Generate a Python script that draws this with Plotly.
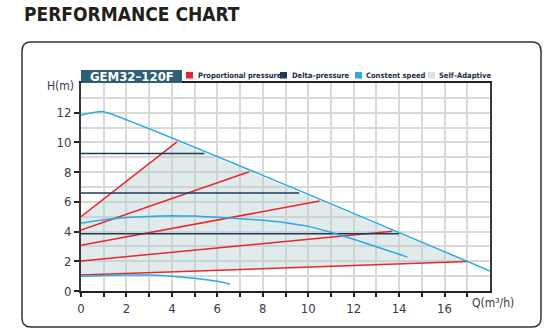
import plotly.graph_objects as go

# ---------------- data ----------------
title_text = "PERFORMANCE CHART"
model_name = "GEM32–120F"
legend_labels = ["Proportional pressure", "Delta–pressure", "Constent speed", "Self–Adaptive"]

x_tick_vals = [0, 2, 4, 6, 8, 10, 12, 14, 16]
y_tick_vals = [0, 2, 4, 6, 8, 10, 12]

# proportional pressure lines (start / end points)
prop_q_start = [0, 0, 0, 0, 0]
prop_h_start = [5.0, 4.1, 3.08, 2.02, 1.08]
prop_q_end = [4.22, 7.4, 10.5, 13.7, 17.0]
prop_h_end = [10.04, 8.03, 6.05, 4.03, 1.98]

# delta-pressure lines
delta_h = [9.26, 6.6, 3.85]
delta_q_end = [5.43, 9.6, 14.0]

# constant speed curves
cs_max_q = [0, 0.5, 1.0, 18.0]
cs_max_h = [11.85, 12.0, 12.07, 1.35]
cs_mid_q = [0, 1, 2, 3, 4, 5, 6, 7, 8, 9, 10, 11, 12, 13, 14, 14.37]
cs_mid_h = [4.57, 4.8, 4.95, 5.02, 5.06, 5.04, 4.96, 4.87, 4.76, 4.6, 4.35, 3.95, 3.48, 2.98, 2.47, 2.28]
cs_min_q = [0, 1, 2, 3, 4, 5, 6, 6.55]
cs_min_h = [1.0, 1.05, 1.08, 1.07, 1.0, 0.85, 0.65, 0.47]

# self-adaptive region boundary
sa_q = [0, 4.22, 17.0, 0]
sa_h = [5.0, 10.04, 1.98, 1.08]

# ---------------- style ----------------
RED = "#e8262f"
NAVY = "#1f3a5c"
CYAN = "#29abe2"
FILL = "rgba(180,205,205,0.4)"
FILL_SWATCH = "#d9e3e3"
TEAL = "#2e6073"
TXT = "#1c2b4a"
FONT = "DejaVu Sans Condensed, Roboto Condensed, Liberation Sans Narrow, Roboto, sans-serif"

W, H = 550, 334
L, R, T, B = 81, 490, 83, 291


def px(x):
    return (x - L) / (R - L)


def py(y):
    return (B - y) / (B - T)


fig = go.Figure()

fig.add_trace(go.Scatter(x=sa_q, y=sa_h, fill="toself", fillcolor=FILL,
                         mode="lines", line=dict(width=0), hoverinfo="skip",
                         showlegend=False))

# proportional pressure
xs, ys = [], []
for q0, h0, q1, h1 in zip(prop_q_start, prop_h_start, prop_q_end, prop_h_end):
    xs += [q0, q1, None]
    ys += [h0, h1, None]
fig.add_trace(go.Scatter(x=xs, y=ys, mode="lines", line=dict(color=RED, width=1.5),
                         showlegend=False))

# delta pressure
xs, ys = [], []
for h, q1 in zip(delta_h, delta_q_end):
    xs += [0, q1, None]
    ys += [h, h, None]
fig.add_trace(go.Scatter(x=xs, y=ys, mode="lines", line=dict(color=NAVY, width=1.5),
                         showlegend=False))

# constant speed
for q, h in [(cs_max_q, cs_max_h), (cs_mid_q, cs_mid_h), (cs_min_q, cs_min_h)]:
    fig.add_trace(go.Scatter(x=q, y=h, mode="lines", line=dict(color=CYAN, width=1.5, shape="spline", smoothing=0.4),
                             showlegend=False))

GRID = "#d9d9d9"
TICKC = "#3a3a50"
fig.update_xaxes(range=[0, 18], tickmode="array", tickvals=x_tick_vals,
                 ticks="outside", ticklen=4, tickwidth=1.5, tickcolor="#222",
                 showgrid=True, gridcolor=GRID, gridwidth=1.5,
                 minor=dict(tickmode="array", tickvals=[1, 3, 5, 7, 9, 11, 13, 15, 17],
                            ticks="outside", ticklen=4, tickwidth=1.5, tickcolor="#222",
                            showgrid=True, gridcolor=GRID, gridwidth=1.5),
                 showline=True, linecolor="#222", linewidth=2, mirror=True,
                 zeroline=False, tickfont=dict(family=FONT, size=13, color=TICKC))
fig.update_yaxes(range=[0, 14], tickmode="array", tickvals=y_tick_vals,
                 ticks="outside", ticklen=5, tickwidth=1.5, tickcolor="#222",
                 showgrid=True, gridcolor=GRID, gridwidth=1.5,
                 minor=dict(tickmode="array", tickvals=[1, 3, 5, 7, 9, 11, 13],
                            ticks="", showgrid=True, gridcolor=GRID, gridwidth=1.5),
                 showline=True, linecolor="#3a3a3a", linewidth=2, mirror=True,
                 zeroline=False, tickfont=dict(family=FONT, size=13, color=TICKC))

shapes = []
# rounded frame
x0, x1, y0, y1, r = 22, 541, 42, 327, 9
def P(x, y):
    return f"{px(x):.5f},{py(y):.5f}"
path = (f"M {P(x0 + r, y0)} L {P(x1 - r, y0)} Q {P(x1, y0)} {P(x1, y0 + r)} "
        f"L {P(x1, y1 - r)} Q {P(x1, y1)} {P(x1 - r, y1)} "
        f"L {P(x0 + r, y1)} Q {P(x0, y1)} {P(x0, y1 - r)} "
        f"L {P(x0, y0 + r)} Q {P(x0, y0)} {P(x0 + r, y0)} Z")
shapes.append(dict(type="path", xref="paper", yref="paper", path=path,
                   line=dict(color="#333", width=1.5)))
# header box
shapes.append(dict(type="rect", xref="paper", yref="paper", x0=px(81), x1=px(182),
                   y0=py(83), y1=py(70), fillcolor=TEAL, line=dict(width=0)))
# legend swatches
sw = [(186, RED), (280, NAVY), (355, CYAN), (428, FILL_SWATCH)]
for sx, c in sw:
    shapes.append(dict(type="rect", xref="paper", yref="paper", x0=px(sx), x1=px(sx + 7),
                       y0=py(78.5), y1=py(72), fillcolor=c, line=dict(width=0)))

ann = []
ann.append(dict(text=f"<b>{title_text}</b>", xref="paper", yref="paper", x=px(22), y=py(14),
                xanchor="left", yanchor="middle", showarrow=False,
                font=dict(family=FONT, size=19, color="#231f20")))
ann.append(dict(text=f"<b>{model_name}</b>", xref="paper", yref="paper", x=px(131.5), y=py(76.5),
                xanchor="center", yanchor="middle", showarrow=False,
                font=dict(family=FONT, size=13, color="white")))
text_x = [196, 290, 364, 437]
for tx, lab in zip(text_x, legend_labels):
    ann.append(dict(text=f"<b>{lab}</b>", xref="paper", yref="paper", x=px(tx), y=py(75.5),
                    xanchor="left", yanchor="middle", showarrow=False,
                    font=dict(family=FONT, size=7.5, color=TXT)))
ann.append(dict(text="H(m)", xref="paper", yref="paper", x=px(76), y=py(86),
                xanchor="right", yanchor="middle", showarrow=False,
                font=dict(family=FONT, size=12, color=TICKC)))
ann.append(dict(text="Q(m³/h)", xref="paper", yref="paper", x=px(492.5), y=py(303),
                xanchor="center", yanchor="middle", showarrow=False,
                font=dict(family=FONT, size=12, color=TICKC)))

fig.update_layout(width=W, height=H, margin=dict(l=L, r=W - R, t=T, b=H - B),
                  paper_bgcolor="white", plot_bgcolor="white",
                  shapes=shapes, annotations=ann, showlegend=False)

fig.write_html("out.html")
